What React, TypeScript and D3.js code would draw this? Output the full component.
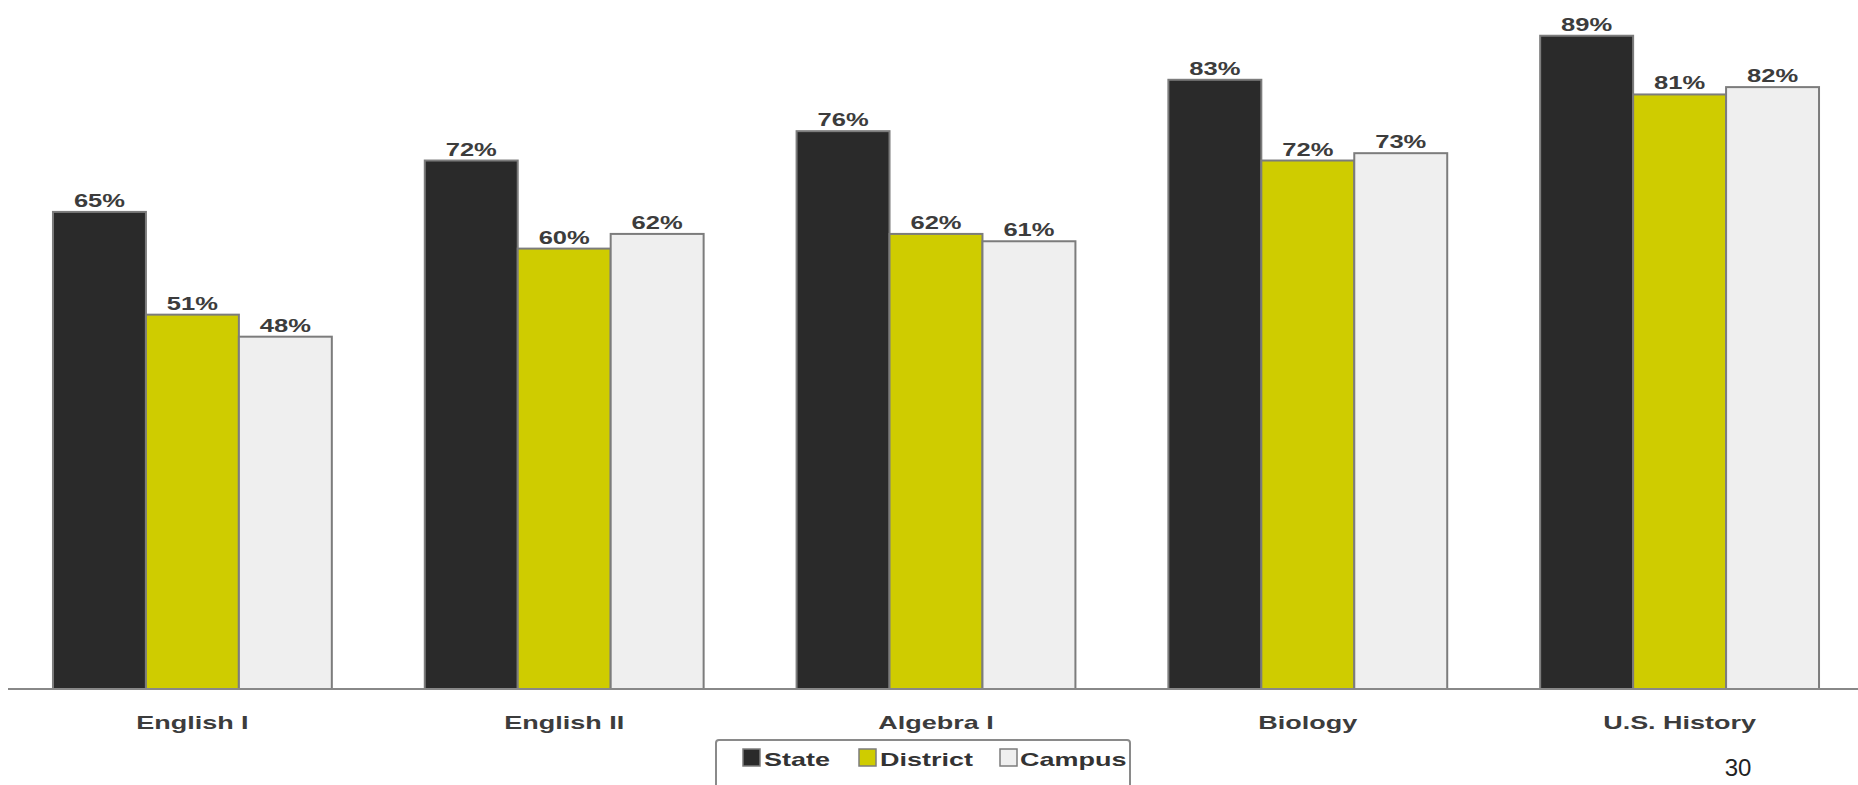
import React from "react";
import * as d3 from "d3";

const categories = ["English I", "English II", "Algebra I", "Biology", "U.S. History"];
const seriesNames = ["State", "District", "Campus"];
const stateValues = [65, 72, 76, 83, 89];
const districtValues = [51, 60, 62, 72, 81];
const campusValues = [48, 62, 61, 73, 82];
const pageNumber = "30";

const W = 1858;
const H = 785;
const fills = ["#2a2a2a", "#cfcc00", "#efefef"];
const FONT = "'Liberation Sans', Arial, sans-serif";
const SX = 1.42;

export default function App() {
  const series = [stateValues, districtValues, campusValues];
  const x = d3.scaleBand<string>().domain(categories).range([6.5, 1865.5]).paddingInner(0.25).paddingOuter(0.125);
  const xi = d3.scaleBand<string>().domain(seriesNames).range([0, x.bandwidth()]);
  const y = d3.scaleLinear().domain([0, 100]).range([689, -45]);

  const legendItems = [
    { name: "State", sx: 743, tx: 764 },
    { name: "District", sx: 859, tx: 880 },
    { name: "Campus", sx: 1000, tx: 1020 },
  ];

  return (
    <svg width={W} height={H} style={{ position: "absolute", left: 0, top: 0, background: "#fff" }}>
      <rect x={0} y={0} width={W} height={H} fill="#fff" />
      {categories.map((c, ci) => (
        <g key={c}>
          {seriesNames.map((s, si) => {
            const v = series[si][ci];
            const bx = (x(c) as number) + (xi(s) as number);
            const bw = xi.bandwidth();
            return (
              <g key={s}>
                <rect
                  x={bx}
                  y={y(v)}
                  width={bw}
                  height={y(0) - y(v)}
                  fill={fills[si]}
                  stroke="#7c7c7c"
                  strokeWidth={2}
                />
                <g transform={`translate(${bx + bw / 2},${y(v) - 5}) scale(${SX},1)`}>
                  <text textAnchor="middle" fontFamily={FONT} fontWeight="bold" fontSize={18} fill="#3c3c3c">
                    {v}%
                  </text>
                </g>
              </g>
            );
          })}
          <g transform={`translate(${(x(c) as number) + x.bandwidth() / 2},729) scale(1.42,1)`}>
            <text textAnchor="middle" fontFamily={FONT} fontWeight="bold" fontSize={19} fill="#3c3c3c">
              {c}
            </text>
          </g>
        </g>
      ))}
      <line x1={8} x2={W} y1={y(0)} y2={y(0)} stroke="#888" strokeWidth={2} />
      <rect x={716} y={740} width={414} height={60} rx={3} fill="#fff" stroke="#8a8a8a" strokeWidth={2} />
      {legendItems.map((it, i) => (
        <g key={it.name}>
          <rect x={it.sx} y={749} width={17} height={17} fill={fills[i]} stroke="#7c7c7c" strokeWidth={1.5} />
          <g transform={`translate(${it.tx},766) scale(1.42,1)`}>
            <text fontFamily={FONT} fontWeight="bold" fontSize={19} fill="#333">
              {it.name}
            </text>
          </g>
        </g>
      ))}
      <text x={1738} y={776} textAnchor="middle" fontFamily={FONT} fontSize={24} fill="#222">
        {pageNumber}
      </text>
    </svg>
  );
}
